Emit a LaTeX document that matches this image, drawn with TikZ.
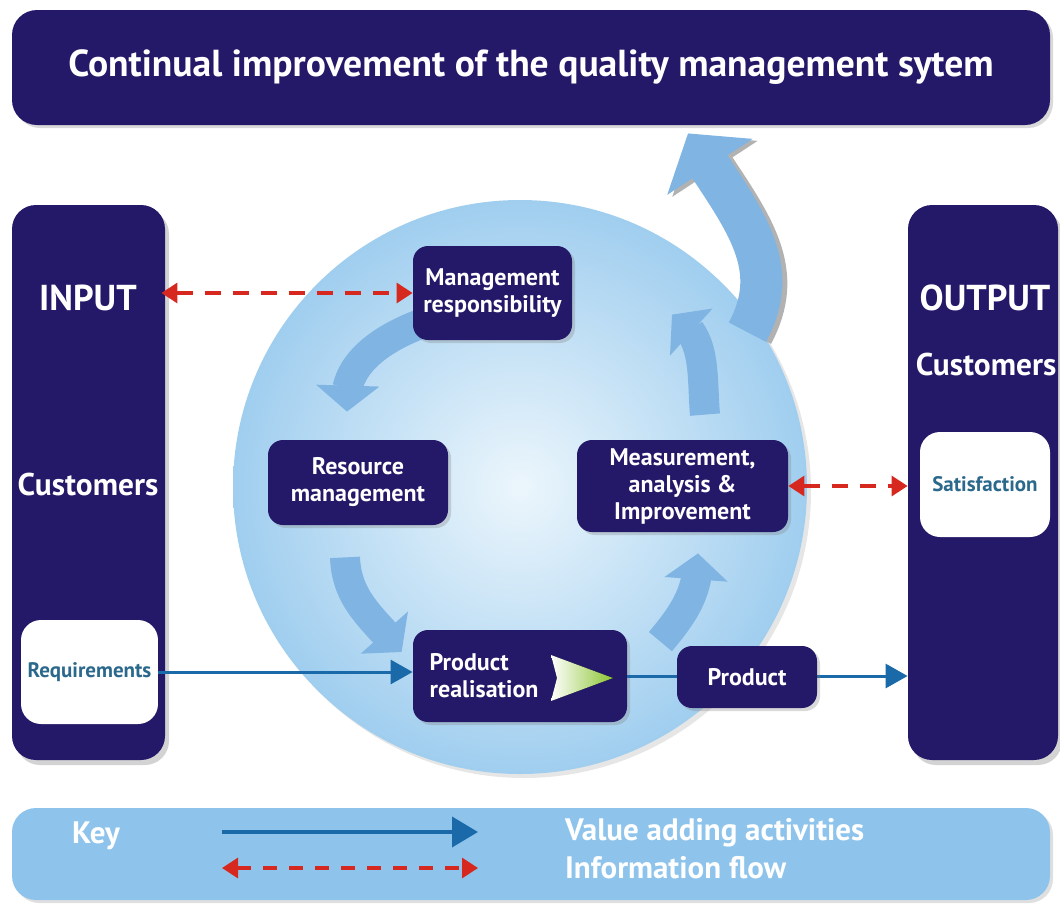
\documentclass[tikz,border=0pt]{standalone}
\usepackage{fontspec}
\setmainfont{PT Sans}
\usepackage{xcolor}
\usepackage{tikz}
\usetikzlibrary{positioning, arrows.meta, bending, shadows, backgrounds}
\definecolor{navy}{RGB}{36,24,104}
\definecolor{wheelin}{RGB}{236,246,252}
\definecolor{wheelout}{RGB}{160,206,239}
\definecolor{turnblue}{RGB}{128,180,226}
\definecolor{keyblue}{RGB}{142,196,236}
\definecolor{flowblue}{RGB}{26,106,170}
\definecolor{flowred}{RGB}{214,40,30}
\definecolor{cardtext}{RGB}{42,104,140}
\definecolor{chevgreen}{RGB}{140,196,50}
\tikzset{
x=0.5pt, y=0.5pt, % one unit is one pixel of the sketch
every node/.style={text=white, font=\bfseries},
box/.style={fill=navy, rounded corners=7.5pt, align=center, font=\bfseries\fontsize{12}{13.5}\selectfont,
  drop shadow={opacity=0.3, shadow xshift=1.5pt, shadow yshift=-1.5pt}}, % process boxes
panel/.style={fill=navy, rounded corners=12pt, drop shadow={opacity=0.35, shadow xshift=2pt, shadow yshift=-2.5pt}}, % input and output columns
card/.style={fill=white, rounded corners=10pt, text=cardtext, font=\bfseries\fontsize{10.5}{12}\selectfont}, % white boxes in the columns
head/.style={font=\bfseries\fontsize{18}{20}\selectfont},
side/.style={font=\bfseries\fontsize{15.7}{18}\selectfont},
keytext/.style={font=\bfseries\fontsize{15.5}{18}\selectfont},
wheel/.style={circle, minimum size=287pt, inner sep=0pt, inner color=wheelin, outer color=wheelout,
  drop shadow={opacity=0.2, shadow xshift=2pt, shadow yshift=-2pt}},
turn/.style={draw=turnblue, line width=15pt, -{Triangle[length=13pt, width=31pt]}}, % arrows of the cycle
bigturn/.style={draw=turnblue, line width=21pt, -{Triangle[length=20pt, width=50pt]}},
value/.style={draw=flowblue, line width=1.5pt, -{Triangle[length=11pt, width=12pt]}},
info/.style={draw=flowred, line width=1.6pt, dash pattern=on 8pt off 6pt,
  {Triangle[length=8pt, width=10pt]}-{Triangle[length=8pt, width=10pt]}},
}
\begin{document}
\begin{tikzpicture}
    \useasboundingbox (0,0) rectangle (1060,-905);

    \node[box, minimum width=519pt, minimum height=57.5pt, rounded corners=12.5pt,
          font=\bfseries\fontsize{18.8}{22}\selectfont] (cim) at (531,-67.5)
          {Continual improvement of the quality management sytem};
    \coordinate (up) at ([shift={(157,-8)}]cim.south);

    \node[box, minimum width=79.5pt, minimum height=47pt] (mr) at (492.5,-293) {Management\\responsibility};
    \node[box, minimum width=90pt, minimum height=42.5pt] (rm) at (358,-482.5) {Resource\\management};
    \node[box, minimum width=105.5pt, minimum height=46pt] (mai) at (682.5,-486) {Measurement,\\analysis \&\\Improvement};
    \node[box, minimum width=107pt, minimum height=46pt] (pr) at (520,-676) {};
    \node[right=5pt of pr.west, align=left, font=\bfseries\fontsize{12}{13.5}\selectfont] (prtxt) {Product\\realisation};
    \fill[left color=white, right color=chevgreen] (551,-655) -- (613,-678) -- (551,-701) -- (557,-678) -- cycle;

    % the wheel and its arrows go under the boxes
    \begin{pgfonlayer}{background}
    \node[wheel] (cyc) at (520,-487) {};
    \draw[bigturn, draw=gray!60, transform canvas={xshift=2.5pt, yshift=-1pt}]
        ([shift={(-8,-10)}]cyc.35) .. controls (785,-262) and (740,-215) .. (up);
    \draw[bigturn] ([shift={(-8,-10)}]cyc.35) .. controls (785,-262) and (740,-215) .. (up);
    \draw[turn] ([shift={(12,18)}]mr.south west) to[out=200, in=100] ([shift={(-11,28)}]rm.north);
    \draw[turn] ([shift={(-13,-32)}]rm.south) to[out=272, in=130] ([shift={(-11,24)}]pr.west);
    \draw[turn] ([shift={(33,-12)}]pr.north east) to[out=50, in=272] ([shift={(15.5,-21)}]mai.south);
    \draw[turn] ([shift={(22.5,25)}]mai.north) to[out=95, in=-30] ([shift={(-10.5,125)}]mai.north);
    \end{pgfonlayer}

    \node[panel, minimum width=76.5pt, minimum height=277.5pt] (inp) at (88.5,-482.5) {};
    \node[head] (intxt) at (88,-298) {INPUT};
    \node[side] (incust) at (88,-485) {Customers};
    \node[card, minimum width=67.5pt, minimum height=52pt] (req) at (89.5,-672) {Requirements};

    \node[panel, minimum width=75pt, minimum height=277.5pt] (outp) at (983,-482.5) {};
    \node[head] (outtxt) at (985,-298) {OUTPUT};
    \node[side] (outcust) at (986,-365) {Customers};
    \node[card, minimum width=65pt, minimum height=52.5pt] (sat) at (985,-484.5) {Satisfaction};

    \draw[value] (req.east) -- (req.east -| pr.west);
    \draw[value] (pr.east) -- (pr.east -| outp.west);
    \draw[info] ([xshift=-2pt]inp.east |- mr.west) -- (mr.west);
    \draw[info] (mai.east) -- (mai.east -| outp.west);

    \node[box, minimum width=70pt, minimum height=31pt] (prod) at (747,-677) {Product};

    % key
    \node[fill=keyblue, rounded corners=12pt, minimum width=519pt, minimum height=46pt,
          drop shadow={opacity=0.25, shadow xshift=1.5pt, shadow yshift=-1.5pt}] (key) at (531,-854) {};
    \node[keytext] (keytxt) at (96,-836) {Key};
    \coordinate (v0) at (222,-832);
    \coordinate (v1) at (478,-832);
    \coordinate (i0) at (222,-868);
    \coordinate (i1) at (478,-868);
    \draw[value, line width=2pt, -{Triangle[length=13pt, width=15pt]}] (v0) -- (v1);
    \draw[info, dash pattern=on 7pt off 6pt] (i0) -- (i1);
    \node[keytext, anchor=west] (vtxt) at (558,-833) {Value adding activities};
    \node[keytext, anchor=west] (itxt) at (558,-868) {Information flow};
\end{tikzpicture}
\end{document}
